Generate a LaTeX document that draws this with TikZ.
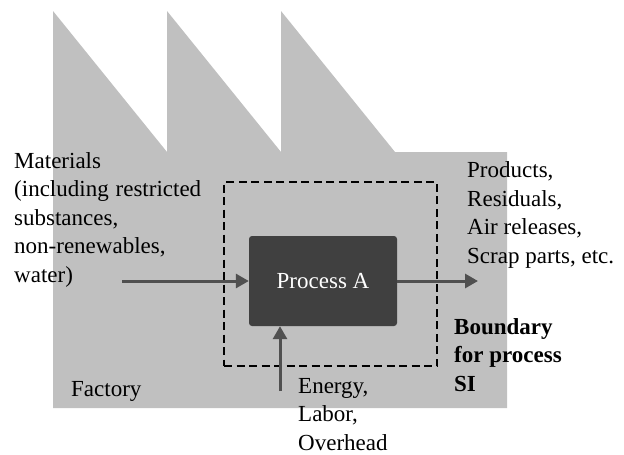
\documentclass[tikz,border=0pt]{standalone}
\usepackage{fontspec}
\setmainfont{Liberation Serif}
\usetikzlibrary{arrows.meta}
\definecolor{factorygray}{HTML}{C0C0C0}
\definecolor{procgray}{HTML}{404040}
\definecolor{arrowgray}{HTML}{505050}
\begin{document}
\begin{tikzpicture}[x=1pt,y=-1pt,
  txt/.style={inner sep=0pt, align=left, font=\fontsize{23}{28.5}\selectfont, anchor=base west},
  boldtxt/.style={txt, font=\fontsize{23}{28.5}\selectfont\bfseries},
  flow/.style={draw=arrowgray, line width=3pt, -{Triangle[length=13pt,width=14pt]}},
  procbox/.style={fill=procgray, rounded corners=3pt, minimum width=148pt, minimum height=90pt,
    inner sep=0pt, text=white, font=\fontsize{23}{26}\selectfont},
  boundbox/.style={draw=black, line width=2.6pt, dash pattern=on 8pt off 4.5pt,
    minimum width=213pt, minimum height=184pt, inner sep=0pt}]
\useasboundingbox (0,0) rectangle (624,455);
% factory silhouette
\fill[factorygray] (53,11) -- (167,152) -- (167,11) -- (281,152) -- (281,11) -- (395,152)
  -- (507,152) -- (507,408) -- (53,408) -- cycle;
% boundary and process
\node[boundbox] (bnd) at (330.5,274) {};
\node[procbox] (proc) at (323,281) {Process A};
% flows
\coordinate (min) at (122,281);
\coordinate (mout) at (478,281);
\coordinate (ein) at (280,391);
\draw[flow] (min) -- (proc.west);
\draw[flow] (proc.east) -- (mout);
\draw[flow] (ein) -- (ein |- proc.south);
% labels (anchored at the baseline of the last line)
\node[txt] (mat) at (14,282) {Materials\\(including\hspace{0.3em}restricted\\substances,\\non-renewables,\\water)};
\node[txt] (prod) at (467,263) {Products,\\Residuals,\\Air releases,\\Scrap parts, etc.};
\node[boldtxt] (bound) at (454,391) {Boundary\\for process\\SI};
\node[txt] (fac) at (71,396) {Factory};
\node[txt] (en) at (298,450) {Energy,\\Labor,\\Overhead};
\end{tikzpicture}
\end{document}
